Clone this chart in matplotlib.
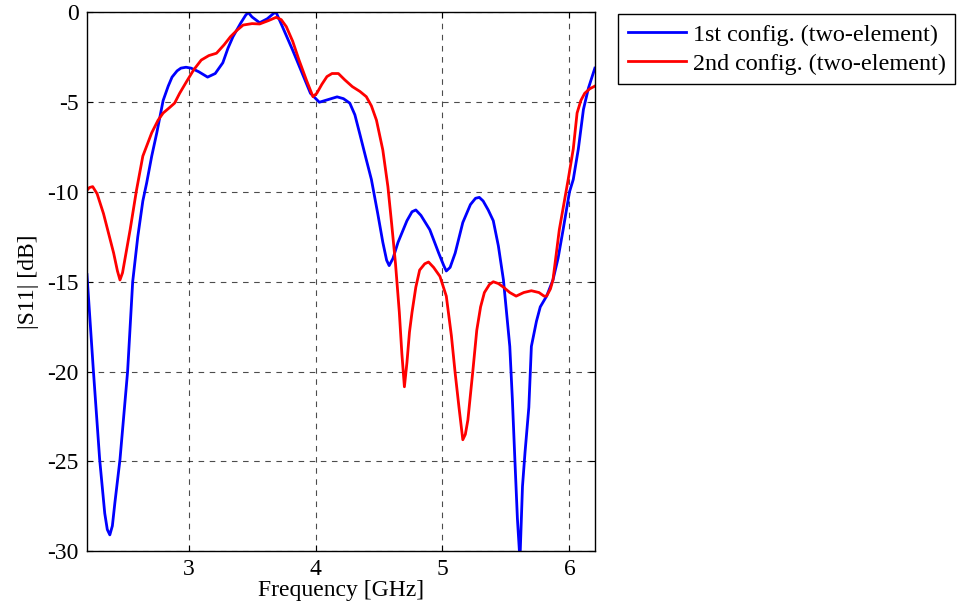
import matplotlib.pyplot as plt

plt.rcParams['font.family'] = ['Liberation Serif', 'DejaVu Serif']
plt.rcParams['axes.unicode_minus'] = False

# |S11| of the two-element configurations, read per frequency point
freq1 = [2.20, 2.25, 2.30, 2.34, 2.36, 2.38, 2.40, 2.42, 2.46, 2.52, 2.56, 2.60, 2.64, 2.67, 2.71,
         2.75, 2.80, 2.84, 2.87, 2.91, 2.94, 2.98, 3.02, 3.08, 3.15, 3.21, 3.27, 3.31, 3.35, 3.41,
         3.45, 3.47, 3.50, 3.56, 3.62, 3.67, 3.69, 3.74, 3.82, 3.89, 3.96, 4.03, 4.10, 4.17, 4.22,
         4.27, 4.31, 4.35, 4.40, 4.44, 4.49, 4.53, 4.56, 4.58, 4.61, 4.65, 4.72, 4.76, 4.79, 4.83,
         4.90, 4.97, 5.01, 5.03, 5.06, 5.10, 5.16, 5.22, 5.26, 5.29, 5.32, 5.36, 5.40, 5.44, 5.48,
         5.53, 5.55, 5.57, 5.59, 5.61, 5.63, 5.65, 5.68, 5.70, 5.74, 5.77, 5.82, 5.87, 5.91, 5.95,
         6.00, 6.03, 6.07, 6.11, 6.15, 6.20]
s11_1 = [-14.6, -19.9, -24.9, -27.9, -28.8, -29.1, -28.6, -27.3, -24.9, -20.0, -15.0, -12.5, -10.5, -9.5, -8.0,
         -6.7, -4.9, -4.1, -3.6, -3.25, -3.1, -3.05, -3.1, -3.3, -3.6, -3.4, -2.8, -2.0, -1.35, -0.6,
         -0.15, 0.0, -0.25, -0.57, -0.35, -0.05, 0.0, -0.8, -2.1, -3.3, -4.5, -5.0, -4.85, -4.7, -4.8,
         -5.05, -5.7, -6.8, -8.2, -9.3, -11.2, -12.8, -13.8, -14.1, -13.7, -12.8, -11.6, -11.1, -11.0, -11.3,
         -12.1, -13.4, -14.1, -14.4, -14.2, -13.4, -11.7, -10.7, -10.35, -10.3, -10.5, -11.0, -11.6, -13.0, -14.9,
         -18.6, -21.5, -24.9, -28.2, -30.5, -26.4, -24.5, -22.0, -18.6, -17.2, -16.4, -15.8, -14.9, -13.7, -12.1,
         -10.0, -9.3, -7.6, -5.4, -4.2, -3.1]

freq2 = [2.20, 2.22, 2.245, 2.28, 2.33, 2.37, 2.41, 2.44, 2.46, 2.48, 2.51, 2.54, 2.59, 2.64, 2.71,
         2.76, 2.80, 2.85, 2.89, 2.93, 2.98, 3.04, 3.10, 3.16, 3.22, 3.28, 3.33, 3.38, 3.43, 3.50,
         3.56, 3.63, 3.69, 3.73, 3.77, 3.82, 3.87, 3.93, 3.98, 4.01, 4.05, 4.09, 4.13, 4.18, 4.23,
         4.29, 4.35, 4.40, 4.44, 4.48, 4.53, 4.57, 4.60, 4.63, 4.66, 4.68, 4.70, 4.72, 4.74, 4.76,
         4.79, 4.82, 4.86, 4.89, 4.93, 4.98, 5.03, 5.07, 5.10, 5.13, 5.16, 5.18, 5.20, 5.24, 5.27,
         5.30, 5.33, 5.37, 5.40, 5.44, 5.48, 5.53, 5.58, 5.64, 5.70, 5.76, 5.80, 5.82, 5.85, 5.87,
         5.92, 5.99, 6.03, 6.06, 6.09, 6.12, 6.16, 6.20]
s11_2 = [-9.9, -9.75, -9.7, -10.1, -11.2, -12.3, -13.4, -14.4, -14.9, -14.5, -13.3, -12.1, -9.9, -8.0, -6.7,
         -6.0, -5.6, -5.3, -5.05, -4.5, -3.9, -3.2, -2.65, -2.4, -2.27, -1.8, -1.35, -1.0, -0.7, -0.62,
         -0.64, -0.45, -0.27, -0.4, -0.79, -1.6, -2.65, -3.8, -4.69, -4.5, -4.0, -3.57, -3.4, -3.4, -3.75,
         -4.13, -4.4, -4.69, -5.2, -6.0, -7.66, -9.7, -11.8, -14.0, -16.7, -19.0, -20.85, -19.5, -17.8, -16.7,
         -15.3, -14.35, -14.0, -13.9, -14.2, -14.7, -15.8, -18.0, -20.1, -22.0, -23.8, -23.5, -22.7, -19.9, -17.7,
         -16.4, -15.6, -15.15, -15.0, -15.1, -15.3, -15.6, -15.8, -15.6, -15.5, -15.6, -15.8, -15.8, -15.4, -14.9,
         -12.1, -9.3, -7.6, -5.6, -4.9, -4.5, -4.25, -4.1]

labels = ['1st config. (two-element)', '2nd config. (two-element)']
xticks = [3, 4, 5, 6]
yticks = [0, -5, -10, -15, -20, -25, -30]

fig = plt.figure(figsize=(9.61, 6.15), dpi=100)
ax = fig.add_axes([0.0905, 0.104, 0.5285, 0.8757])

ax.plot(freq1, s11_1, color='#0000ff', lw=2.0, label=labels[0])
ax.plot(freq2, s11_2, color='#ff0000', lw=2.0, label=labels[1])

ax.set_xlim(2.2, 6.2)
ax.set_ylim(-30, 0)
ax.set_xticks(xticks)
ax.set_yticks(yticks)
ax.grid(True, color='black', linestyle=(0, (5, 5)), lw=0.8, alpha=0.7)
ax.tick_params(direction='in', top=True, right=True, labelsize=17, length=4, pad=6)
for sp in ax.spines.values():
    sp.set_linewidth(1.0)

ax.set_xlabel('Frequency [GHz]', fontsize=17, labelpad=0)
ax.set_ylabel('|S11| [dB]', fontsize=17, labelpad=6)

leg = fig.legend(loc='upper left', bbox_to_anchor=(618 / 961, 1 - 14 / 615),
                 fontsize=17.4, fancybox=False, edgecolor='black', framealpha=1,
                 borderaxespad=0, handlelength=2.4, borderpad=0.4, labelspacing=0.3,
                 handletextpad=0.3)
leg.get_frame().set_linewidth(1.0)

fig.savefig('out.png', dpi=100)
